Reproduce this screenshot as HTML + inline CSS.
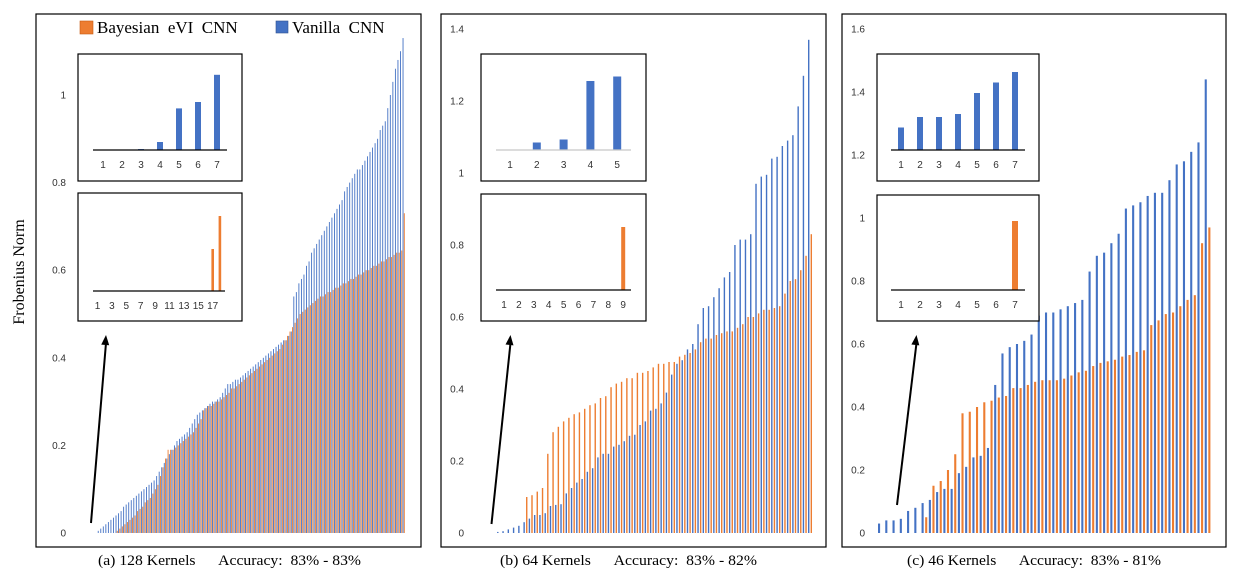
<!DOCTYPE html>
<html><head><meta charset="utf-8"><style>
html,body{margin:0;padding:0;background:#fff;}
svg{display:block;}
.tick{font-family:"Liberation Sans",sans-serif;font-size:10px;fill:#333;}
.serif{font-family:"Liberation Serif",serif;fill:#000;white-space:pre;}
</style></head><body>
<svg id="chart" width="1238" height="573" viewBox="0 0 1238 573" xmlns="http://www.w3.org/2000/svg">
<text class="serif" font-size="16" transform="translate(24,272) rotate(-90)" text-anchor="middle">Frobenius Norm</text>
</svg>
<script>
// ---------- Panel A: 128 kernels ----------
const aBlue = [0,0,0,0,0,0,0,0.005,0.01,0.015,
0.02,0.025,0.03,0.035,0.04,0.045,0.05,0.06,0.065,0.07,
0.075,0.08,0.085,0.09,0.095,0.1,0.105,0.11,0.115,0.12,
0.13,0.14,0.15,0.16,0.17,0.18,0.19,0.2,0.21,0.215,
0.22,0.225,0.23,0.24,0.25,0.26,0.27,0.275,0.28,0.285,
0.29,0.295,0.3,0.3,0.305,0.31,0.32,0.33,0.34,0.34,
0.345,0.35,0.35,0.355,0.36,0.365,0.37,0.375,0.38,0.385,
0.39,0.395,0.4,0.405,0.41,0.415,0.42,0.425,0.43,0.435,
0.44,0.44,0.45,0.46,0.54,0.55,0.57,0.58,0.59,0.61,
0.62,0.64,0.65,0.66,0.67,0.68,0.69,0.7,0.71,0.72,
0.73,0.74,0.75,0.76,0.78,0.79,0.8,0.81,0.82,0.83,
0.83,0.84,0.85,0.86,0.87,0.88,0.89,0.9,0.92,0.93,
0.94,0.97,1.0,1.03,1.06,1.08,1.1,1.13];
const aOrange = [0,0,0,0,0,0,0,0,0,0,
0,0,0,0,0.005,0.01,0.015,0.02,0.025,0.03,
0.035,0.04,0.05,0.055,0.06,0.07,0.075,0.08,0.09,0.1,
0.11,0.13,0.15,0.17,0.19,0.19,0.19,0.195,0.2,0.205,
0.21,0.215,0.22,0.225,0.23,0.24,0.25,0.26,0.28,0.285,
0.29,0.29,0.295,0.3,0.3,0.305,0.31,0.315,0.32,0.33,
0.33,0.335,0.34,0.345,0.35,0.355,0.36,0.365,0.37,0.375,
0.38,0.385,0.39,0.395,0.4,0.405,0.41,0.415,0.42,0.43,
0.44,0.45,0.46,0.47,0.48,0.49,0.5,0.505,0.51,0.515,
0.52,0.525,0.53,0.535,0.54,0.54,0.545,0.55,0.55,0.555,
0.56,0.56,0.565,0.57,0.57,0.575,0.58,0.58,0.585,0.59,
0.59,0.595,0.6,0.6,0.605,0.61,0.61,0.615,0.62,0.62,
0.625,0.63,0.63,0.635,0.64,0.64,0.645,0.73];
const aTicks = ["0","0.2","0.4","0.6","0.8","1"];
const aTickVals = [0,0.2,0.4,0.6,0.8,1];
// ---------- Panel B: 64 kernels ----------
const bBlue = [0,0,0,0,0.003,0.005,0.01,0.015,0.02,0.03,0.04,0.05,0.05,0.055,
0.075,0.078,0.08,0.11,0.125,0.14,0.15,0.17,0.18,
0.21,0.22,0.22,0.24,0.245,0.255,0.27,0.273,
0.3,0.31,0.34,0.345,0.36,0.39,0.44,0.47,0.48,0.51,0.525,
0.58,0.625,0.63,0.655,0.68,0.71,0.725,
0.8,0.815,0.815,0.83,
0.97,0.99,0.995,1.04,1.045,1.075,1.09,1.105,1.185,1.27,1.37];
const bOrange = [0,0,0,0,0,0,0,0,0,
0.1,0.105,0.115,0.125,0.22,0.28,0.295,0.31,0.32,0.33,
0.335,0.345,0.355,0.36,0.375,0.38,0.405,0.415,0.42,
0.43,0.43,0.445,0.445,0.45,0.46,0.47,0.47,0.475,0.475,
0.49,0.495,0.5,0.51,0.53,0.54,0.54,0.55,
0.555,0.56,0.56,0.57,0.58,0.6,0.6,0.61,0.62,
0.62,0.625,0.63,0.665,0.7,0.705,0.73,0.77,0.83];
const bTicks = ["0","0.2","0.4","0.6","0.8","1","1.2","1.4"];
const bTickVals = [0,0.2,0.4,0.6,0.8,1,1.2,1.4];
// ---------- Panel C: 46 kernels ----------
const cBlue = [0.03,0.04,0.04,0.045,0.07,0.08,0.095,0.105,0.13,0.14,0.14,0.19,0.21,0.24,0.245,0.27,
0.47,0.57,0.59,0.6,0.61,0.63,0.69,0.7,0.7,0.71,0.72,0.73,0.74,
0.83,0.88,0.89,0.92,0.95,
1.03,1.04,1.05,1.07,1.08,1.08,1.12,1.17,1.18,1.21,1.24,1.44];
const cOrange = [0,0,0,0,0,0,
0.05,0.15,0.165,0.2,0.25,
0.38,0.385,0.4,0.415,0.42,0.43,0.435,
0.46,0.46,0.47,0.48,0.485,0.485,0.485,0.49,0.5,0.51,0.515,0.53,0.54,0.545,0.55,0.56,0.565,0.575,0.58,
0.66,0.675,0.695,0.7,0.72,0.74,0.755,0.92,0.97];
const cTicks = ["0","0.2","0.4","0.6","0.8","1","1.2","1.4","1.6"];
const cTickVals = [0,0.2,0.4,0.6,0.8,1,1.2,1.4,1.6];
// ---------- Insets ----------
const aInsetTopCats = ["1","2","3","4","5","6","7"];
const aInsetTopVals = [0,0,0.3,2.5,13,15,23.5];
const aInsetBotCats = ["1","","3","","5","","7","","9","","11","","13","","15","","17",""];
const aInsetBotVals = [0,0,0,0,0,0,0,0,0,0,0,0,0,0,0,0,14,25];
const bInsetTopCats = ["1","2","3","4","5"];
const bInsetTopVals = [0,2.5,3.5,23,24.5];
const bInsetBotCats = ["1","2","3","4","5","6","7","8","9"];
const bInsetBotVals = [0,0,0,0,0,0,0,0,21];
const cInsetTopCats = ["1","2","3","4","5","6","7"];
const cInsetTopVals = [7.5,11,11,12,19,22.5,26];
const cInsetBotCats = ["1","2","3","4","5","6","7"];
const cInsetBotVals = [0,0,0,0,0,0,23];

const BLUE="#4472C4", ORANGE="#ED7D31";
const NS="http://www.w3.org/2000/svg";
const svg=document.getElementById('chart');
function mk(tag,attrs,parent){const e=document.createElementNS(NS,tag);for(const k in attrs)e.setAttribute(k,attrs[k]);(parent||svg).appendChild(e);return e;}

function panel(cfg){
  const g=mk('g',{});
  
  
  const box=mk('rect',{x:cfg.bx,y:14,width:cfg.bw,height:533,fill:'none',stroke:'#000','stroke-width':1.2},g);
  
  
  const yScale=v=>533-v*cfg.scale;
  const xScale=i=>cfg.x0+i*cfg.step;
  cfg.tickVals.forEach((v,i)=>{
    const t=mk('text',{x:cfg.tickX,y:yScale(v)+3.5,'text-anchor':'end',class:'tick'},g);
    t.textContent=cfg.ticks[i];
    
    
  });
  cfg.blue.forEach((v,i)=>{
    if(v<=0)return;
    const r=mk('rect',{x:xScale(i),y:yScale(v),width:cfg.barW,height:v*cfg.scale,fill:BLUE},g);
    
    
  });
  cfg.orange.forEach((v,i)=>{
    if(v<=0)return;
    const r=mk('rect',{x:xScale(i)+cfg.off,y:yScale(v),width:cfg.barW,height:v*cfg.scale,fill:ORANGE},g);
    
    
  });
  const cap=mk('text',{x:cfg.capX,y:565,class:'serif','font-size':14.5,textLength:cfg.capLen,lengthAdjust:'spacingAndGlyphs'},g);
  cap.textContent=cfg.caption;
  
  
  const ar=mk('line',{x1:cfg.arrow[0],y1:cfg.arrow[1],x2:cfg.arrow[2],y2:cfg.arrow[3]+8,stroke:'#000','stroke-width':2},g);
  
  
  const dx=cfg.arrow[2]-cfg.arrow[0], dy=cfg.arrow[3]-cfg.arrow[1], L=Math.hypot(dx,dy), ux=dx/L, uy=dy/L;
  const tx=cfg.arrow[2], ty=cfg.arrow[3];
  const hd=mk('polygon',{points:`${tx},${ty} ${tx-ux*10-uy*4},${ty-uy*10+ux*4} ${tx-ux*10+uy*4},${ty-uy*10-ux*4}`,fill:'#000'},g);
  
  
  return g;
}

function inset(g,c){
  const f=mk('rect',{x:c.x,y:c.y,width:c.w,height:c.h,fill:'#fff',stroke:'#000','stroke-width':1.2},g);
  
  
  const ys=v=>c.axisY-v*c.unit;
  const xs=i=>c.cx0+i*c.cstep;
  c.vals.forEach((v,i)=>{
    if(v<=0)return;
    const r=mk('rect',{x:xs(i)-c.barW/2,y:ys(v),width:c.barW,height:v*c.unit,fill:c.color},g);
    
    
  });
  const ax=mk('line',{x1:c.ax1,x2:c.ax2,y1:c.axisY,y2:c.axisY,stroke:c.axisColor||'#000','stroke-width':1.2},g);
  
  
  c.cats.forEach((s,i)=>{
    if(!s)return;
    const t=mk('text',{x:xs(i),y:c.axisY+18,'text-anchor':'middle',class:'tick'},g);
    t.textContent=s;
    
    
  });
}

const gA=panel({name:'panel-a-128-kernels',bx:36,bw:385,scale:438,x0:80,step:2.54,barW:0.9,off:1.27,tickX:66,
  ticks:aTicks,tickVals:aTickVals,blue:aBlue,orange:aOrange,capX:98,capLen:263,
  caption:'(a) 128 Kernels      Accuracy:  83% - 83%',arrow:[91,523,106,335]});
inset(gA,{name:'inset-a-vanilla',x:78,y:54,w:164,h:127,axisY:150,unit:3.2,cx0:103,cstep:19,barW:6,color:BLUE,ax1:93,ax2:227,vals:aInsetTopVals,cats:aInsetTopCats});
inset(gA,{name:'inset-a-bayesian',x:78,y:193,w:164,h:128,axisY:291,unit:3,cx0:97.5,cstep:7.2,barW:2.6,color:ORANGE,ax1:93,ax2:225,vals:aInsetBotVals,cats:aInsetBotCats});
const lg=mk('g',{});


const l1=mk('rect',{x:80,y:21,width:13,height:13,fill:ORANGE,stroke:'#c55a11','stroke-width':0.6},lg);


const lt1=mk('text',{x:97,y:33,class:'serif','font-size':17},lg);
lt1.textContent='Bayesian  eVI  CNN';


const l2=mk('rect',{x:276,y:21,width:12,height:12,fill:BLUE,stroke:'#2f528f','stroke-width':0.6},lg);


const lt2=mk('text',{x:292,y:33,class:'serif','font-size':17},lg);
lt2.textContent='Vanilla  CNN';



const gB=panel({name:'panel-b-64-kernels',bx:441,bw:385,scale:360,x0:476,step:5.27,barW:1.4,off:2.6,tickX:464,
  ticks:bTicks,tickVals:bTickVals,blue:bBlue,orange:bOrange,capX:500,capLen:257,
  caption:'(b) 64 Kernels      Accuracy:  83% - 82%',arrow:[491.5,524,510.5,335]});
inset(gB,{name:'inset-b-vanilla',x:481,y:54,w:165,h:127,axisY:150,unit:3.0,cx0:510,cstep:26.8,barW:8,color:BLUE,ax1:496,ax2:631,axisColor:'#c8c8c8',vals:bInsetTopVals,cats:bInsetTopCats});
inset(gB,{name:'inset-b-bayesian',x:481,y:194,w:165,h:127,axisY:290,unit:3.0,cx0:504,cstep:14.9,barW:4,color:ORANGE,ax1:496,ax2:631,vals:bInsetBotVals,cats:bInsetBotCats});

const gC=panel({name:'panel-c-46-kernels',bx:842,bw:384,scale:315,x0:878,step:7.26,barW:2.1,off:3.6,tickX:865,
  ticks:cTicks,tickVals:cTickVals,blue:cBlue,orange:cOrange,capX:907,capLen:254,
  caption:'(c) 46 Kernels      Accuracy:  83% - 81%',arrow:[897,505,916.5,335]});
inset(gC,{name:'inset-c-vanilla',x:877,y:54,w:162,h:127,axisY:150,unit:3.0,cx0:901,cstep:19,barW:6,color:BLUE,ax1:891,ax2:1025,vals:cInsetTopVals,cats:cInsetTopCats});
inset(gC,{name:'inset-c-bayesian',x:877,y:195,w:162,h:126,axisY:290,unit:3.0,cx0:901,cstep:19,barW:6,color:ORANGE,ax1:891,ax2:1025,vals:cInsetBotVals,cats:cInsetBotCats});
</script>
</body></html>
